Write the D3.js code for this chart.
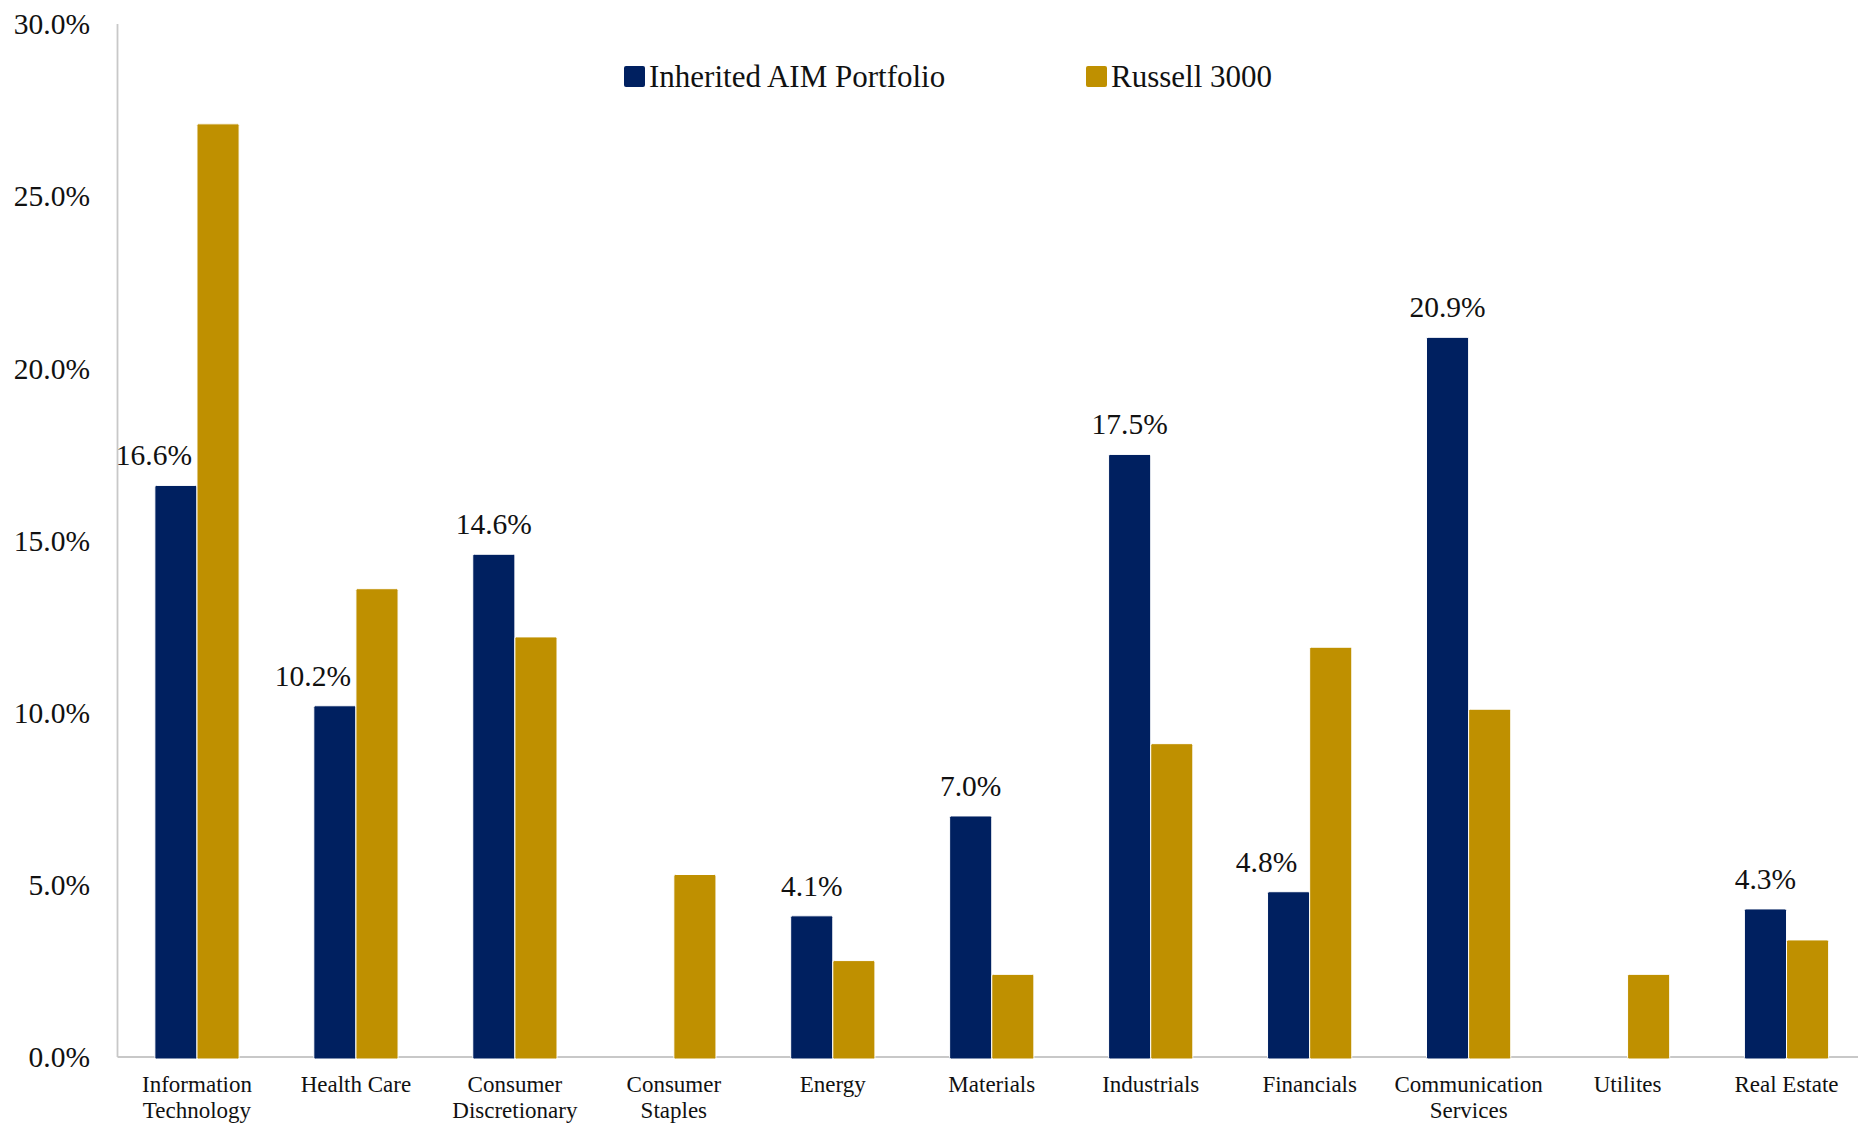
<!DOCTYPE html>
<html>
<head>
<meta charset="utf-8">
<script src="https://cdn.jsdelivr.net/npm/d3@7/dist/d3.min.js"></script>
<style>
  html, body { margin: 0; padding: 0; background: #ffffff; }
  svg { display: block; }
  text { font-family: "Liberation Serif", "DejaVu Serif", serif; fill: #111; }
</style>
</head>
<body>
<svg id="chart" width="1858" height="1124"></svg>
<script>
const categories = [
  ["Information", "Technology"],
  ["Health Care"],
  ["Consumer", "Discretionary"],
  ["Consumer", "Staples"],
  ["Energy"],
  ["Materials"],
  ["Industrials"],
  ["Financials"],
  ["Communication", "Services"],
  ["Utilites"],
  ["Real Estate"]
];
const seriesNames = ["Inherited AIM Portfolio", "Russell 3000"];
const portfolio = [16.6, 10.2, 14.6, 0, 4.1, 7.0, 17.5, 4.8, 20.9, 0, 4.3];
const russell = [27.1, 13.6, 12.2, 5.3, 2.8, 2.4, 9.1, 11.9, 10.1, 2.4, 3.4];
const yTicks = [0, 5, 10, 15, 20, 25, 30];
const colors = ["#002060", "#BF9000"];

(function () {
const svg = d3.select("#chart");
const pLeft = 117.5, pRight = 1866, pTop = 24, pBottom = 1057;

const x = d3.scaleBand().domain(d3.range(categories.length)).range([pLeft, pRight]).paddingInner(0.47).paddingOuter(0.235);
const xs = d3.scaleBand().domain([0, 1]).range([0, x.bandwidth()]).padding(0);
const y = d3.scaleLinear().domain([0, 30]).range([pBottom, pTop]);

svg.append("line").attr("x1", pLeft).attr("x2", pLeft).attr("y1", pTop).attr("y2", pBottom)
  .attr("stroke", "#c8c8c8").attr("stroke-width", 1.8);
svg.append("line").attr("x1", pLeft).attr("x2", 1858).attr("y1", pBottom).attr("y2", pBottom)
  .attr("stroke", "#c8c8c8").attr("stroke-width", 2);

const fmt = d => d3.format(".1f")(d) + "%";
svg.append("g").selectAll("text").data(yTicks).join("text")
  .attr("x", 90).attr("y", d => y(d)).attr("dy", "0.35em")
  .attr("text-anchor", "end").attr("font-size", 29.5).text(fmt);

const data = categories.map((c, i) => ({ i, vals: [portfolio[i], russell[i]] }));
const g = svg.append("g").selectAll("g").data(data).join("g")
  .attr("transform", d => `translate(${x(d.i)},0)`);
g.selectAll("rect").data(d => d.vals.map((v, k) => ({ v, k })).filter(e => e.v > 0)).join("rect")
  .attr("x", e => xs(e.k)).attr("width", xs.bandwidth())
  .attr("y", e => y(e.v)).attr("height", e => y(0) - y(e.v) + 2)
  .attr("rx", 1.5)
  .attr("fill", e => colors[e.k]).attr("stroke", "#ffffff").attr("stroke-width", 1);

svg.append("g").selectAll("text").data(data.filter(d => portfolio[d.i] > 0)).join("text")
  .attr("x", d => x(d.i) + xs(0) + xs.bandwidth() / 2 - (russell[d.i] > portfolio[d.i] ? 22 : 0))
  .attr("y", d => y(portfolio[d.i]) - 20)
  .attr("text-anchor", "middle").attr("font-size", 29.5)
  .text(d => fmt(portfolio[d.i]));

const cl = svg.append("g").selectAll("text").data(data).join("text")
  .attr("text-anchor", "middle").attr("font-size", 23)
  .attr("transform", d => `translate(${x(d.i) + x.bandwidth() / 2},1092)`);
cl.selectAll("tspan").data(d => categories[d.i]).join("tspan")
  .attr("x", 0).attr("y", (t, j) => j * 25.5).text(t => t);

const legX = [624, 1086];
const leg = svg.append("g").selectAll("g").data(seriesNames).join("g")
  .attr("transform", (d, i) => `translate(${legX[i]},66)`);
leg.append("rect").attr("width", 21).attr("height", 21).attr("rx", 2).attr("fill", (d, i) => colors[i]);
leg.append("text").attr("x", 25).attr("y", 10).attr("dy", "0.35em").attr("font-size", 31).text(d => d);
})();
</script>
</body>
</html>
